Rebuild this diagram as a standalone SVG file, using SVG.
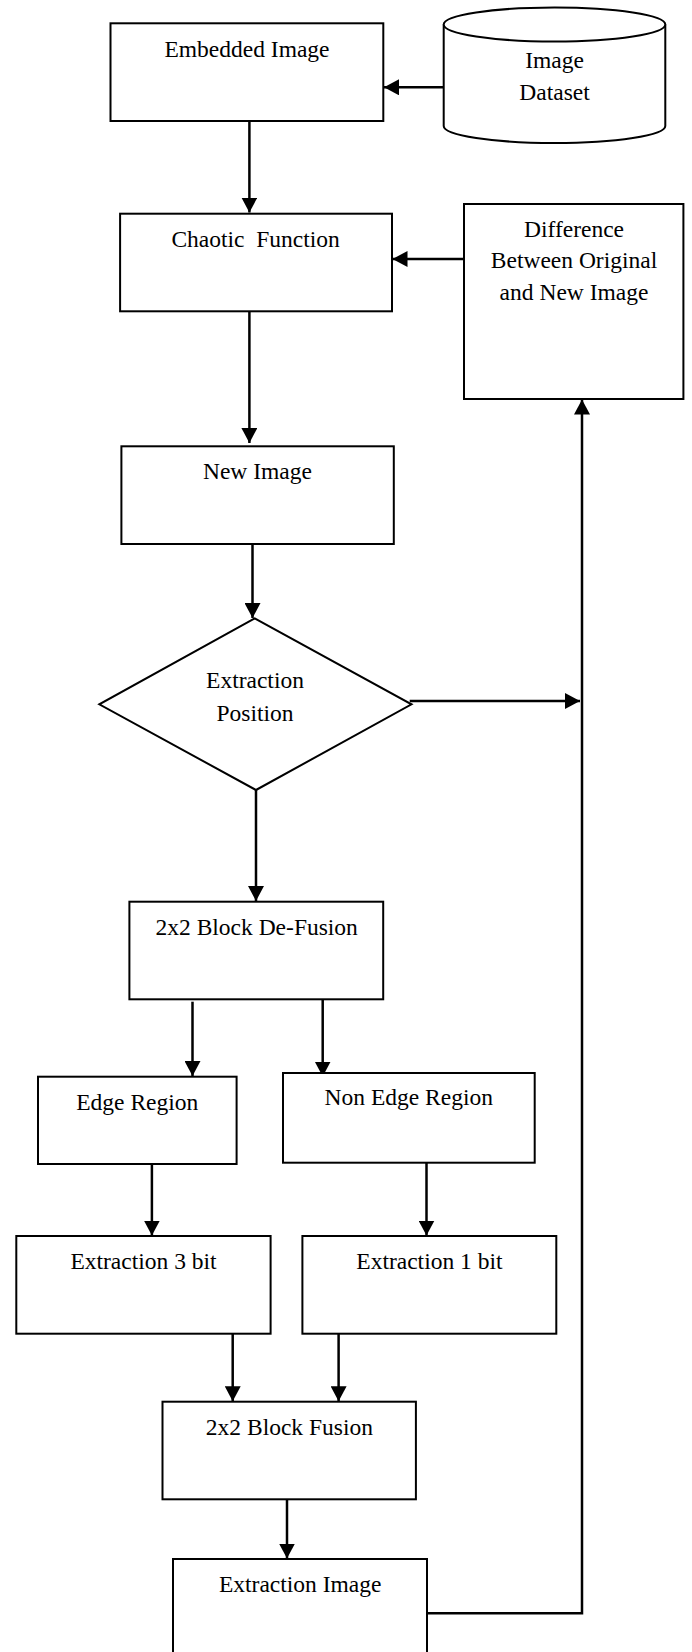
<svg xmlns="http://www.w3.org/2000/svg" width="692" height="1652" viewBox="0 0 692 1652">
<style>
.box{fill:#fff;stroke:#000;stroke-width:2}
.t{font-family:"Liberation Serif","Times New Roman",serif;font-size:23.5px;fill:#000;text-anchor:middle}
.c{fill:none;stroke:#000;stroke-width:2.5}
</style>
<defs>
<marker id="ah" markerUnits="userSpaceOnUse" markerWidth="16" markerHeight="16" refX="15" refY="8" orient="auto">
<path d="M0,0 L15,8 L0,16 Z" fill="#000"/>
</marker>
</defs>
<rect width="692" height="1652" fill="#fff"/>
<g id="connectors">
<line class="c" x1="443.7" y1="87.3" x2="384" y2="87.3" marker-end="url(#ah)"/>
<line class="c" x1="249.4" y1="121" x2="249.4" y2="212.5" marker-end="url(#ah)"/>
<line class="c" x1="464" y1="259" x2="392.5" y2="259" marker-end="url(#ah)"/>
<line class="c" x1="249.4" y1="307" x2="249.4" y2="443" marker-end="url(#ah)"/>
<line class="c" x1="252.5" y1="544" x2="252.5" y2="618" marker-end="url(#ah)"/>
<line class="c" x1="409.7" y1="701" x2="580" y2="701" marker-end="url(#ah)"/>
<line class="c" x1="256" y1="790" x2="256" y2="901" marker-end="url(#ah)"/>
<line class="c" x1="192.5" y1="1001.7" x2="192.5" y2="1076" marker-end="url(#ah)"/>
<line class="c" x1="322.7" y1="997.3" x2="322.7" y2="1076.5" marker-end="url(#ah)"/>
<line class="c" x1="151.9" y1="1164" x2="151.9" y2="1235.5" marker-end="url(#ah)"/>
<line class="c" x1="426.5" y1="1161" x2="426.5" y2="1235.5" marker-end="url(#ah)"/>
<line class="c" x1="232.7" y1="1331.7" x2="232.7" y2="1401.2" marker-end="url(#ah)"/>
<line class="c" x1="338.6" y1="1331.7" x2="338.6" y2="1401.2" marker-end="url(#ah)"/>
<line class="c" x1="287" y1="1499.3" x2="287" y2="1558.5" marker-end="url(#ah)"/>
<path class="c" d="M427,1613.3 L582,1613.3 L582,399.5" marker-end="url(#ah)"/>
</g>
<g id="dataset">
<path class="box" d="M443.7,24.5 L443.7,126 A110.8,17 0 0,0 665.3,126 L665.3,24.5"/>
<ellipse class="box" cx="554.5" cy="24.5" rx="110.8" ry="17"/>
<text class="t" x="554.5" y="68">Image</text>
<text class="t" x="554.5" y="100">Dataset</text>
</g>
<g id="embedded">
<rect class="box" x="110.5" y="23.3" width="272.8" height="97.7"/>
<text class="t" x="247" y="57.3">Embedded Image</text>
</g>
<g id="chaotic">
<rect class="box" x="120.1" y="213.7" width="271.9" height="97.6"/>
<text class="t" x="255.6" y="246.7" xml:space="preserve">Chaotic  Function</text>
</g>
<g id="difference">
<rect class="box" x="464" y="204" width="219.4" height="195"/>
<text class="t" x="574" y="236.7">Difference</text>
<text class="t" x="574" y="268.3">Between Original</text>
<text class="t" x="574" y="300">and New Image</text>
</g>
<g id="newimage">
<rect class="box" x="121.4" y="446.3" width="272.4" height="97.7"/>
<text class="t" x="257.4" y="479.3">New Image</text>
</g>
<g id="position">
<polygon class="box" points="254.7,618.3 411.5,704.3 256,790 99.3,704.3"/>
<text class="t" x="255" y="688.3">Extraction</text>
<text class="t" x="255" y="720.7">Position</text>
</g>
<g id="defusion">
<rect class="box" x="129.4" y="901.7" width="253.8" height="97.6"/>
<text class="t" x="256.7" y="935">2x2 Block De-Fusion</text>
</g>
<g id="edge">
<rect class="box" x="38" y="1076.7" width="198.6" height="87.3"/>
<text class="t" x="137.3" y="1110">Edge Region</text>
</g>
<g id="nonedge">
<rect class="box" x="283" y="1073" width="251.7" height="89.7"/>
<text class="t" x="408.8" y="1105">Non Edge Region</text>
</g>
<g id="ext3">
<rect class="box" x="16.3" y="1236" width="254.3" height="97.7"/>
<text class="t" x="143.5" y="1269">Extraction 3 bit</text>
</g>
<g id="ext1">
<rect class="box" x="302.4" y="1236" width="253.9" height="97.7"/>
<text class="t" x="429.4" y="1269">Extraction 1 bit</text>
</g>
<g id="fusion">
<rect class="box" x="162.5" y="1401.7" width="253.4" height="97.6"/>
<text class="t" x="289.4" y="1435">2x2 Block Fusion</text>
</g>
<g id="extimage">
<rect class="box" x="173" y="1559" width="254" height="110"/>
<text class="t" x="300.2" y="1591.7">Extraction Image</text>
</g>
</svg>
